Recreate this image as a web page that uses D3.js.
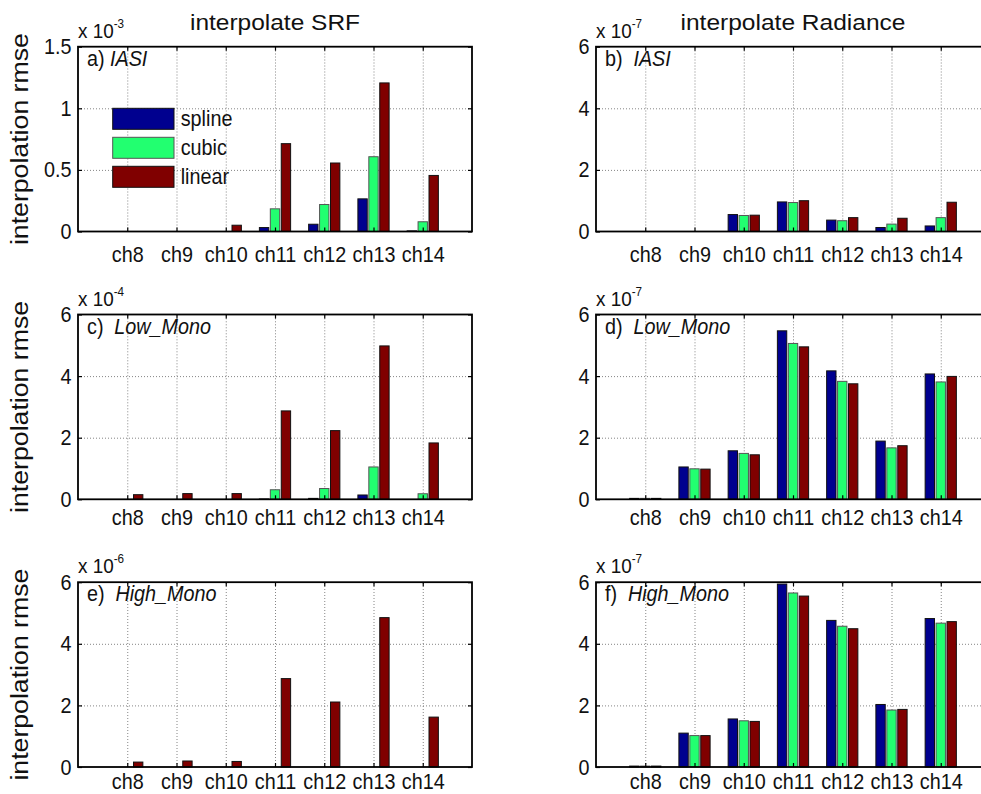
<!DOCTYPE html>
<html>
<head>
<meta charset="utf-8">
<script src="https://cdn.jsdelivr.net/npm/d3@7"></script>
<style>
  html, body { margin: 0; padding: 0; background: #fff; }
  svg { display: block; font-family: "Liberation Sans", Arial, Helvetica, sans-serif; }
</style>
</head>
<body>
<svg id="chart" width="981" height="794"></svg>
<script>
// ---------------- DATA ----------------
const channels = ["ch8", "ch9", "ch10", "ch11", "ch12", "ch13", "ch14"];
const seriesNames = ["spline", "cubic", "linear"];
const seriesColors = ["#00008f", "#22ff70", "#800000"];

// a) interpolate SRF, IASI  (x 10^-3)
const srfIasiSpline = [0, 0, 0, 0.032, 0.059, 0.265, 0.005];
const srfIasiCubic  = [0, 0, 0, 0.184, 0.219, 0.607, 0.079];
const srfIasiLinear = [0, 0, 0.051, 0.713, 0.556, 1.206, 0.455];

// b) interpolate Radiance, IASI  (x 10^-7)
const radIasiSpline = [0, 0, 0.55, 0.96, 0.37, 0.13, 0.18];
const radIasiCubic  = [0, 0, 0.52, 0.94, 0.35, 0.24, 0.45];
const radIasiLinear = [0, 0, 0.53, 1.00, 0.45, 0.43, 0.95];

// c) interpolate SRF, Low_Mono  (x 10^-4)
const srfLowSpline = [0, 0, 0, 0.01, 0.03, 0.14, 0];
const srfLowCubic  = [0, 0, 0, 0.31, 0.35, 1.05, 0.18];
const srfLowLinear = [0.15, 0.185, 0.185, 2.87, 2.23, 4.98, 1.83];

// d) interpolate Radiance, Low_Mono  (x 10^-7)
const radLowSpline = [0.03, 1.05, 1.575, 5.47, 4.17, 1.89, 4.07];
const radLowCubic  = [0.03, 0.99, 1.49, 5.06, 3.83, 1.67, 3.81];
const radLowLinear = [0.03, 0.98, 1.445, 4.95, 3.75, 1.74, 3.99];

// e) interpolate SRF, High_Mono  (x 10^-6)
const srfHighSpline = [0, 0, 0, 0, 0, 0, 0];
const srfHighCubic  = [0, 0, 0, 0, 0, 0, 0];
const srfHighLinear = [0.16, 0.195, 0.18, 2.87, 2.11, 4.85, 1.62];

// f) interpolate Radiance, High_Mono  (x 10^-7)
const radHighSpline = [0.03, 1.10, 1.56, 5.94, 4.76, 2.03, 4.82];
const radHighCubic  = [0.03, 1.02, 1.50, 5.65, 4.57, 1.85, 4.67];
const radHighLinear = [0.03, 1.02, 1.48, 5.55, 4.49, 1.87, 4.72];

const yTicksA = [0, 0.5, 1, 1.5];
const yTicksOther = [0, 2, 4, 6];
const yTickLabelsA = ["0", "0.5", "1", "1.5"];
const yTickLabelsOther = ["0", "2", "4", "6"];

const columnTitles = ["interpolate SRF", "interpolate Radiance"];
const yAxisTitle = "interpolation rmse";

// ---------------- PANELS ----------------
const panels = [
  { id: "a)", name: "IASI", exp: "-3", ymax: 1.5, ticks: yTicksA, tickLabels: yTickLabelsA,
    data: [srfIasiSpline, srfIasiCubic, srfIasiLinear], col: 0, row: 0, gap: 1 },
  { id: "b)", name: "IASI", exp: "-7", ymax: 6, ticks: yTicksOther, tickLabels: yTickLabelsOther,
    data: [radIasiSpline, radIasiCubic, radIasiLinear], col: 1, row: 0, gap: 2 },
  { id: "c)", name: "Low_Mono", exp: "-4", ymax: 6, ticks: yTicksOther, tickLabels: yTickLabelsOther,
    data: [srfLowSpline, srfLowCubic, srfLowLinear], col: 0, row: 1, gap: 2 },
  { id: "d)", name: "Low_Mono", exp: "-7", ymax: 6, ticks: yTicksOther, tickLabels: yTickLabelsOther,
    data: [radLowSpline, radLowCubic, radLowLinear], col: 1, row: 1, gap: 2 },
  { id: "e)", name: "High_Mono", exp: "-6", ymax: 6, ticks: yTicksOther, tickLabels: yTickLabelsOther,
    data: [srfHighSpline, srfHighCubic, srfHighLinear], col: 0, row: 2, gap: 2 },
  { id: "f)", name: "High_Mono", exp: "-7", ymax: 6, ticks: yTicksOther, tickLabels: yTickLabelsOther,
    data: [radHighSpline, radHighCubic, radHighLinear], col: 1, row: 2, gap: 2 }
];

const colLeft = [78, 596];
const rowTop = [46.7, 314.5, 582.2];
const rowLabelPad = [14.5, 10.5, 6.5];
const plotW = 394;
const plotH = 184.8;
const FS = 22;        // base font size
const SX = 0.9;       // horizontal squeeze of glyphs in the reference

const svg = d3.select("#chart");

// column titles
columnTitles.forEach((t, i) => {
  svg.append("text")
    .attr("x", colLeft[i] + plotW / 2)
    .attr("y", 30)
    .attr("text-anchor", "middle")
    .attr("font-size", 22.5)
    .attr("textLength", i === 0 ? 170 : 225)
    .attr("lengthAdjust", "spacingAndGlyphs")
    .attr("fill", "#111")
    .text(t);
});

function squeezed(sel, x, y) {
  // scale horizontally around (x, y)
  sel.attr("transform", `translate(${x},${y}) scale(${SX},1)`).attr("x", 0).attr("y", 0);
  return sel;
}

panels.forEach(p => {
  const left = colLeft[p.col];
  const top = rowTop[p.row];
  const g = svg.append("g").attr("transform", `translate(${left},${top})`);

  const x = d3.scaleLinear().domain([0, 8]).range([0, plotW]);
  const y = d3.scaleLinear().domain([0, p.ymax]).range([plotH, 0]);
  const xVals = channels.map((c, i) => i + 1);

  // grid
  const gx = g.append("g").attr("transform", `translate(0,${plotH})`)
    .call(d3.axisBottom(x).tickValues(xVals).tickSize(-plotH).tickFormat(""));
  const gy = g.append("g")
    .call(d3.axisLeft(y).tickValues(p.ticks.filter(v => v > 0 && v < p.ymax)).tickSize(-plotW).tickFormat(""));
  [gx, gy].forEach(a => {
    a.select(".domain").remove();
    a.selectAll("line").attr("stroke", "#777").attr("stroke-width", 0.9).attr("stroke-dasharray", "1,2");
  });

  // bars
  const groupOffsets = [-0.222, 0, 0.222];
  const barW = 0.19;
  p.data.forEach((vals, s) => {
    g.append("g").selectAll("rect")
      .data(vals)
      .join("rect")
      .attr("x", (v, i) => x(i + 1 + groupOffsets[s] - barW / 2))
      .attr("width", x(barW) - x(0))
      .attr("y", v => y(v))
      .attr("height", v => y(0) - y(v))
      .attr("fill", seriesColors[s])
      .attr("stroke", v => v > 0 ? (s === 1 ? "#555" : "#111") : "none")
      .attr("stroke-width", 1);
  });

  // axes (inward ticks)
  const axB = g.append("g").attr("transform", `translate(0,${plotH})`)
    .call(d3.axisBottom(x).tickValues(xVals).tickFormat(i => channels[i - 1]).tickSizeInner(-4).tickSizeOuter(0).tickPadding(rowLabelPad[p.row]));
  const axT = g.append("g")
    .call(d3.axisTop(x).tickValues(xVals).tickFormat("").tickSizeInner(-4).tickSizeOuter(0));
  const axL = g.append("g")
    .call(d3.axisLeft(y).tickValues(p.ticks).tickFormat((v, i) => p.tickLabels[i]).tickSizeInner(-4).tickSizeOuter(0).tickPadding(6.5));
  const axR = g.append("g").attr("transform", `translate(${plotW},0)`)
    .call(d3.axisRight(y).tickValues(p.ticks).tickFormat("").tickSizeInner(-4).tickSizeOuter(0));
  [axB, axT, axL, axR].forEach(a => {
    a.select(".domain").remove();
    a.selectAll("line").attr("stroke", "#000").attr("stroke-width", 1.2);
    a.selectAll("text").attr("font-size", FS).attr("fill", "#111")
      .attr("font-family", "'Liberation Sans', Arial, sans-serif");
  });
  axB.selectAll("text").attr("transform", `scale(${SX},1)`);
  axL.selectAll("text").each(function () {
    const t = d3.select(this);
    const tx = +t.attr("x");
    t.attr("transform", `translate(${tx},0) scale(${SX},1)`).attr("x", 0);
  });

  // box
  g.append("rect").attr("x", 0).attr("y", 0).attr("width", plotW).attr("height", plotH)
    .attr("fill", "none").attr("stroke", "#000").attr("stroke-width", 1.8);

  // exponent label
  const ex = squeezed(g.append("text"), 0, -9).attr("font-size", 21).attr("fill", "#111");
  ex.append("tspan").text("x 10");
  ex.append("tspan").attr("font-size", 13).attr("dy", -10).text(p.exp);

  // panel label
  const pl = squeezed(g.append("text"), 9, 19).attr("font-size", FS).attr("fill", "#111");
  pl.append("tspan").text(p.id);
  pl.append("tspan").attr("dx", p.gap === 1 ? 6 : 12).attr("font-style", "italic").text(p.name);

  // y axis title (left column)
  if (p.col === 0) {
    svg.append("text")
      .attr("transform", `translate(28,${top + plotH / 2}) rotate(-90)`)
      .attr("text-anchor", "middle")
      .attr("font-size", 23.5)
      .attr("textLength", 212)
      .attr("lengthAdjust", "spacingAndGlyphs")
      .attr("fill", "#111")
      .text(yAxisTitle);
  }

  // legend (panel a)
  if (p.id === "a)") {
    const lg = g.append("g");
    seriesNames.forEach((n, s) => {
      const ly = 61.6 + s * 29;
      lg.append("rect").attr("x", 34.7).attr("y", ly).attr("width", 61.3).attr("height", 21)
        .attr("fill", seriesColors[s]).attr("stroke", s === 1 ? "#555" : "#111").attr("stroke-width", 1);
      squeezed(lg.append("text"), 102.7, ly + 18).attr("font-size", FS).attr("fill", "#111").text(n);
    });
  }
});
</script>
</body>
</html>
